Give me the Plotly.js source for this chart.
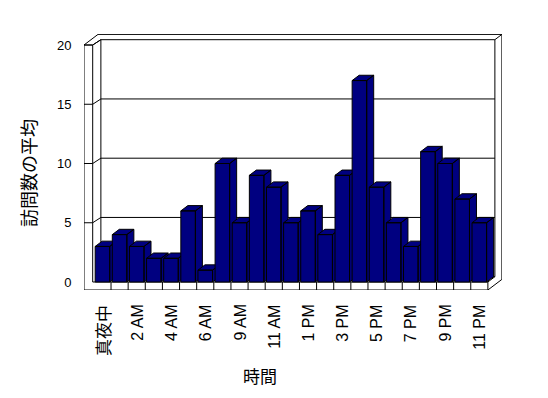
<!DOCTYPE html>
<html>
<head>
<meta charset="utf-8">
<script src="https://cdn.plot.ly/plotly-3.0.1.min.js"></script>
<style>html,body{margin:0;padding:0;background:#fff;}#chart{width:548px;height:398px;}</style>
</head>
<body>
<div id="chart"></div>
<script>
// ---- data ----
const hours = ['真夜中','1 AM','2 AM','3 AM','4 AM','5 AM','6 AM','7 AM','9 AM','10 AM','11 AM','正午',
               '1 PM','2 PM','3 PM','4 PM','5 PM','6 PM','7 PM','8 PM','9 PM','10 PM','11 PM'];
const visits = [3,4,3,2,2,6,1,10,5,9,8,5,6,4,9,17,8,5,3,11,10,7,5];
const yTicks = [0,5,10,15,20];
const xTitle = '時間';
const yTitle = '訪問数の平均';

// ---- geometry (depth offset in axis units) ----
const DX = 7/17.14, DY = 5.3/11.85;
const xLo = -1.0776, xLi = -0.57, FB = -0.675, TOP = 20;
const n = hours.length;
const xEnd = n - 0.5;
const W = 0.85;
const NAVY = '#000080';

const traces = [];
visits.forEach((v, i) => {
  const l = i - W/2, r = i + W/2;
  const xs = [l, r, r, l, l, null,
              l, l+DX, r+DX, r, l, null,
              r, r, r+DX, r+DX, r];
  const ys = [0, 0, v, v, 0, null,
              v, v+DY, v+DY, v, v, null,
              0, v, v+DY, DY, 0];
  traces.push({type:'scatter', mode:'lines', x:xs, y:ys, fill:'toself', fillcolor:NAVY,
               line:{color:'#000', width:1}, hoverinfo:'skip', showlegend:false});
});

const shapes = [];
const L = {color:'#000', width:1};
function seg(x0,y0,x1,y1){ shapes.push({type:'line', xref:'x', yref:'y', x0, y0, x1, y1, line:L, layer:'below'}); }
// back wall inner face
shapes.push({type:'rect', xref:'x', yref:'y', x0:-0.5+DX, x1:xEnd+DX, y0:DY, y1:TOP+DY, fillcolor:'#fff', line:L, layer:'below'});
// gridlines on back wall + left wall
yTicks.forEach(t => {
  if (t > 0 && t < TOP) seg(-0.5+DX, t+DY, xEnd+DX, t+DY);
  if (t > 0) { seg(xLo, t, xLi, t); seg(xLi, t, -0.5+DX, t+DY); }
});
// back wall top (outer)
seg(xLo+2*DX, TOP+2*DY, xEnd+2*DX, TOP+2*DY);
// right end of wall/floor
seg(xEnd+DX, TOP+DY, xEnd+2*DX, TOP+2*DY);
seg(xEnd+2*DX, TOP+2*DY, xEnd+2*DX, FB+2*DY);
seg(xEnd, FB, xEnd+2*DX, FB+2*DY);
seg(xEnd, 0, xEnd+DX, DY);
// left wall front face
seg(xLo, TOP, xLo, FB);
seg(xLi, TOP, xLi, 0);
seg(xLo, TOP, xLi, TOP);
seg(xLo, TOP, xLo+2*DX, TOP+2*DY);
seg(xLi, TOP, -0.5+DX, TOP+DY);
// floor front face
seg(xLi, 0, xEnd, 0);
seg(xLo, FB, xEnd, FB);
seg(xEnd, FB, xEnd, 0);
for (let k = 0; k < n - 1; k++) seg(k + 0.5, FB, k + 0.5, 0);

// category labels (every other hour), hung from the floor edge
const tickIdx = hours.map((h, i) => i).filter(i => i % 2 === 0);
const annotations = tickIdx.map(i => ({
  text: hours[i], xref:'x', yref:'paper', x:i, y:(290-303)/256, showarrow:false, textangle:-90,
  xanchor:'center', yanchor:'top',
  font:{family: /[\u3000-\u9fff]/.test(hours[i]) ? 'Noto Sans CJK JP' : 'Liberation Sans',
        size: /[\u3000-\u9fff]/.test(hours[i]) ? 17 : 16, color:'#000'}
}));
annotations.push(
  {text:xTitle, xref:'paper', yref:'paper', x:(260-84)/418, y:(290-375)/256, showarrow:false,
   xanchor:'center', yanchor:'middle', font:{family:'Noto Sans CJK JP', size:17, color:'#000'}},
  {text:yTitle, xref:'paper', yref:'paper', x:(28-84)/418, y:(290-173)/256, showarrow:false, textangle:-90,
   xanchor:'center', yanchor:'middle', font:{family:'Noto Sans CJK JP', size:18, color:'#000'}}
);

const layout = {
  width:548, height:398,
  margin:{l:84, r:46, t:34, b:108},
  paper_bgcolor:'#fff', plot_bgcolor:'#fff',
  showlegend:false,
  xaxis:{range:[xLo, xEnd + 2*DX + 0.007], showgrid:false, zeroline:false, showline:false,
         showticklabels:false, ticks:''},
  yaxis:{range:[FB, 20.928], showgrid:false, zeroline:false, showline:false,
         tickmode:'array', tickvals:yTicks, ticks:'outside', ticklen:9, tickcolor:'rgba(0,0,0,0)',
         tickfont:{family:'Liberation Sans, sans-serif', size:13, color:'#000'}},
  shapes:shapes,
  annotations:annotations
};
Plotly.newPlot('chart', traces, layout, {staticPlot:true, displayModeBar:false});
</script>
</body>
</html>
